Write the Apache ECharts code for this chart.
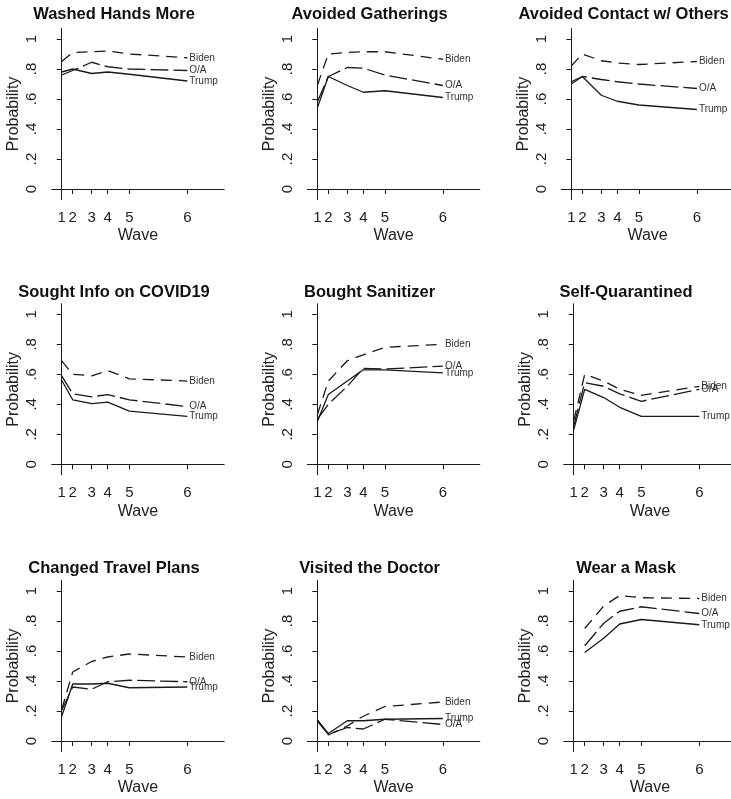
<!DOCTYPE html>
<html>
<head>
<meta charset="utf-8">
<script src="https://cdn.jsdelivr.net/npm/echarts@6/dist/echarts.min.js"></script>
<style>
html,body{margin:0;padding:0;background:#fff;}
#chart{width:731px;height:799px;}
</style>
</head>
<body>
<div id="chart"></div>
<script>
// ---- data ----
const waveLabels = ['1', '2', '3', '4', '5', '6'];
// relative timing of each wave (days since wave 1, approx.)
const waveDay = [0, 11, 30, 46, 67.6, 125.6];
const yTicks = [0, 0.2, 0.4, 0.6, 0.8, 1];
const panelTitles = [
  'Washed Hands More', 'Avoided Gatherings', 'Avoided Contact w/ Others',
  'Sought Info on COVID19', 'Bought Sanitizer', 'Self-Quarantined',
  'Changed Travel Plans', 'Visited the Doctor', 'Wear a Mask'
];
const seriesNames = ['Biden', 'O/A', 'Trump'];
const biden = [
  [0.85, 0.91, 0.915, 0.92, 0.90, 0.875],
  [0.69, 0.90, 0.91, 0.915, 0.915, 0.865],
  [0.82, 0.90, 0.855, 0.84, 0.83, 0.85],
  [0.69, 0.60, 0.59, 0.625, 0.57, 0.555],
  [0.33, 0.555, 0.69, 0.73, 0.78, 0.80],
  [0.29, 0.60, 0.555, 0.50, 0.46, 0.52],
  [0.21, 0.46, 0.53, 0.56, 0.58, 0.56],
  [0.14, 0.04, 0.10, 0.165, 0.23, 0.26],
  [null, 0.75, 0.90, 0.97, 0.955, 0.95]
];
const oa = [
  [0.76, 0.79, 0.845, 0.815, 0.80, 0.79],
  [0.58, 0.75, 0.81, 0.805, 0.76, 0.69],
  [0.70, 0.75, 0.73, 0.715, 0.70, 0.67],
  [0.59, 0.47, 0.45, 0.465, 0.43, 0.385],
  [0.30, 0.40, 0.52, 0.64, 0.635, 0.655],
  [0.255, 0.545, 0.52, 0.47, 0.42, 0.50],
  [0.205, 0.36, 0.345, 0.395, 0.405, 0.395],
  [0.135, 0.045, 0.09, 0.08, 0.145, 0.11],
  [null, 0.635, 0.785, 0.865, 0.895, 0.85]
];
const trump = [
  [0.78, 0.80, 0.77, 0.78, 0.765, 0.72],
  [0.54, 0.75, 0.69, 0.645, 0.655, 0.61],
  [0.715, 0.75, 0.625, 0.585, 0.56, 0.53],
  [0.56, 0.43, 0.405, 0.415, 0.355, 0.32],
  [0.285, 0.465, 0.555, 0.63, 0.63, 0.61],
  [0.23, 0.50, 0.445, 0.38, 0.32, 0.32],
  [0.165, 0.38, 0.38, 0.385, 0.355, 0.36],
  [0.14, 0.05, 0.135, 0.135, 0.145, 0.15],
  [null, 0.59, 0.685, 0.78, 0.81, 0.775]
];

// ---- layout ----
const FONT = '"Liberation Sans", Arial, Helvetica, sans-serif';
const INK = '#1a1a1a';
const colLefts = [[51.7, 307.3, 561.3], [51.7, 307.3, 563.7], [51.7, 307.3, 563.7]];
const rowTops = [28.5, 303.8, 580.5];
const titleTops = [6, 283.5, 560.3];
const gridW = 172.5, gridH = 171;
const dashes = { 'Biden': [11, 7], 'O/A': [18, 5], 'Trump': null };
const allVals = [biden, oa, trump];

const grids = [], xAxes = [], yAxes = [], series = [], titles = [];
for (let p = 0; p < 9; p++) {
  const r = Math.floor(p / 3), c = p % 3;
  const left = colLefts[r][c], top = rowTops[r];
  grids.push({ left: left, top: top, width: gridW, height: gridH, outerBoundsMode: 'none', containLabel: false });
  titles.push({
    text: panelTitles[p], left: left + 62.3, top: titleTops[r], textAlign: 'center', padding: 0,
    textStyle: { fontFamily: FONT, fontSize: 16.5, fontWeight: 'bold', color: '#111' }
  });
  xAxes.push({
    type: 'value', gridIndex: p, min: -10, max: 162.5,
    name: 'Wave', nameLocation: 'middle', nameGap: 28.5,
    nameTextStyle: { fontFamily: FONT, fontSize: 16, color: '#222' },
    axisLine: { show: true, lineStyle: { color: INK, width: 1 } },
    axisTick: { show: true, length: 5, customValues: waveDay, lineStyle: { color: INK } },
    axisLabel: {
      show: true, customValues: waveDay, margin: 10.5,
      fontFamily: FONT, fontSize: 15, color: '#222',
      formatter: v => { const i = waveDay.findIndex(d => Math.abs(d - v) < 1e-6); return i >= 0 ? waveLabels[i] : ''; }
    },
    splitLine: { show: false }
  });
  yAxes.push({
    type: 'value', gridIndex: p, min: -0.07, max: 1.07,
    name: 'Probability', nameLocation: 'middle', nameGap: 30, nameRotate: 90,
    nameTextStyle: { fontFamily: FONT, fontSize: 16, color: '#222' },
    axisLine: { show: true, lineStyle: { color: INK, width: 1 } },
    axisTick: { show: true, length: 5, customValues: yTicks, lineStyle: { color: INK } },
    axisLabel: {
      show: true, customValues: yTicks, rotate: 90, margin: 12,
      fontFamily: FONT, fontSize: 15, color: '#222',
      formatter: v => v === 0 ? '0' : (v === 1 ? '1' : String(Math.round(v * 10) / 10).replace(/^0/, ''))
    },
    splitLine: { show: false }
  });
  for (let s = 0; s < 3; s++) {
    const vals = allVals[s][p];
    const data = [];
    vals.forEach((v, i) => { if (v !== null) data.push([waveDay[i], v]); });
    series.push({
      type: 'line', name: seriesNames[s], xAxisIndex: p, yAxisIndex: p,
      data: data, symbol: 'none', silent: true,
      lineStyle: { color: INK, width: 1.3, type: dashes[seriesNames[s]] || 'solid' },
      endLabel: {
        show: true, formatter: seriesNames[s], distance: 2,
        fontFamily: FONT, fontSize: 10, color: '#333'
      }
    });
  }
}

const chart = echarts.init(document.getElementById('chart'), null, { renderer: 'canvas' });
chart.setOption({
  animation: false,
  backgroundColor: '#fff',
  title: titles,
  grid: grids,
  xAxis: xAxes,
  yAxis: yAxes,
  series: series
});
</script>
</body>
</html>
